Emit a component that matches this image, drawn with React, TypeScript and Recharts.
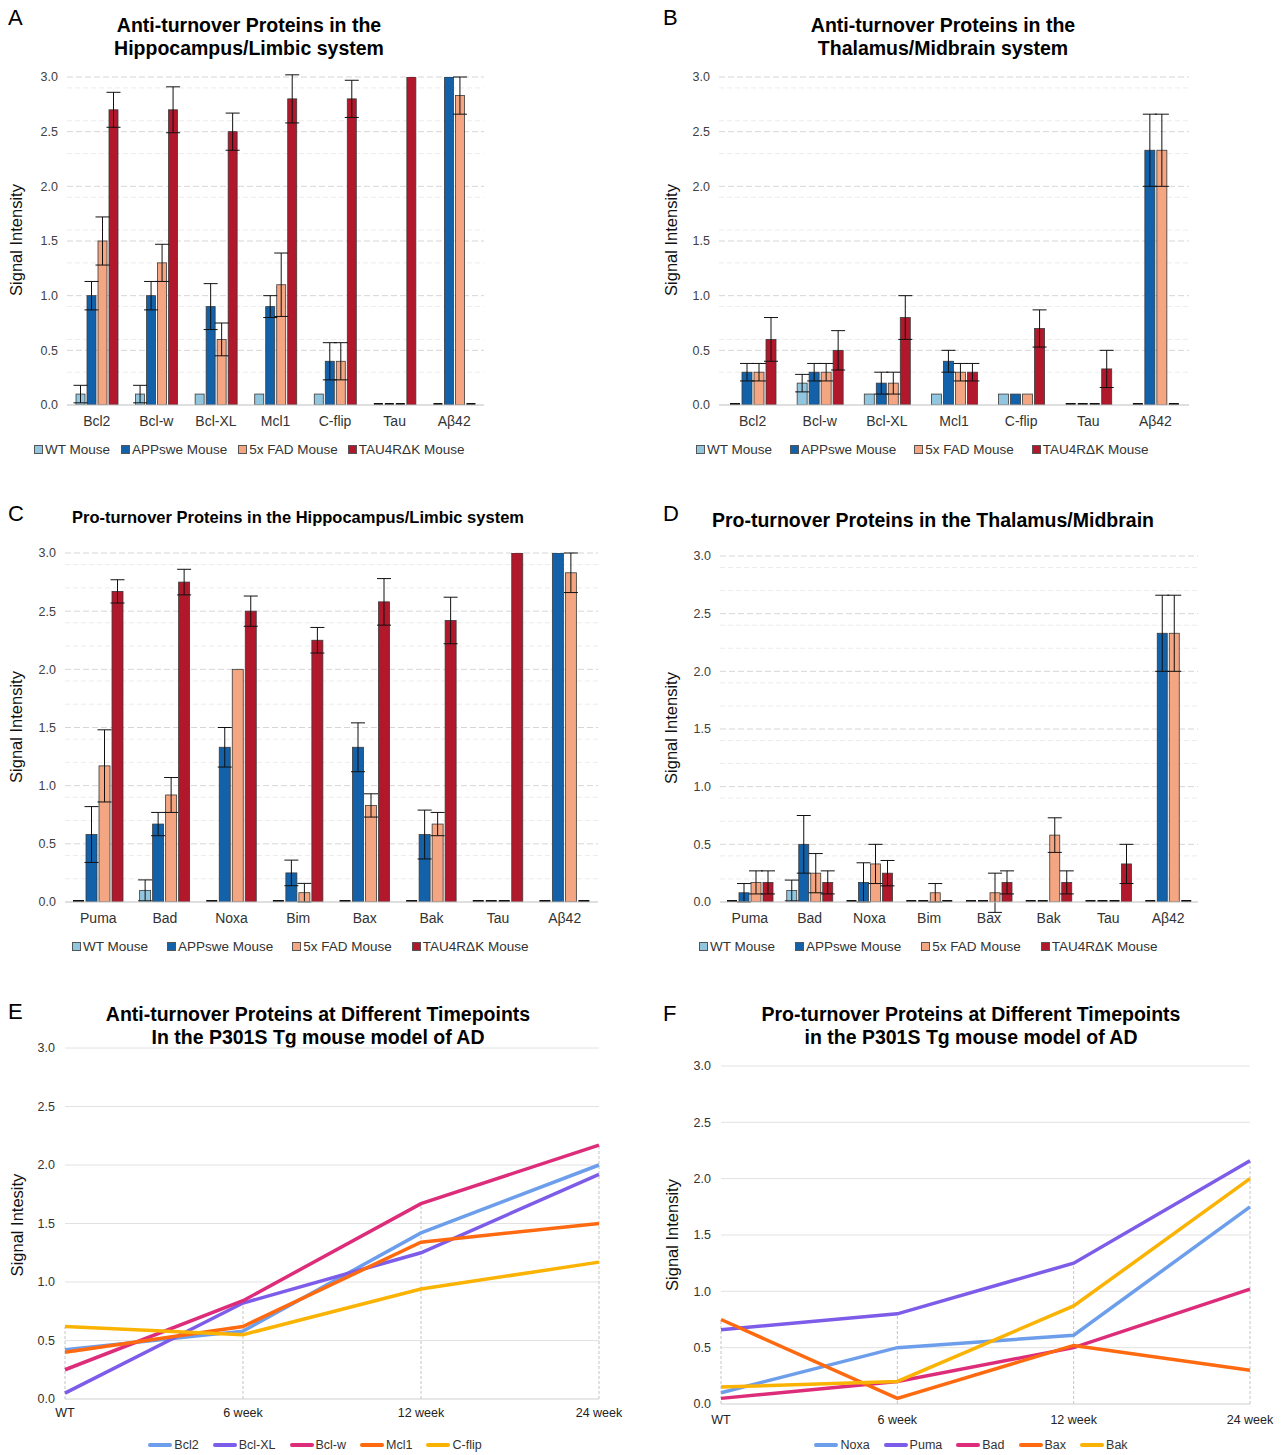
import React from "react";
import {
  BarChart,
  Bar,
  XAxis,
  YAxis,
  CartesianGrid,
  ErrorBar,
  LineChart,
  Line,
  ReferenceLine,
} from "recharts";

const FONT = '"Liberation Sans", Arial, Helvetica, sans-serif';
const NARROW = '"Liberation Sans Narrow", "Liberation Sans", Arial, sans-serif';

// ---- bar panels (A-D) ----
const GROUP_NAMES = ["WT Mouse", "APPswe Mouse", "5x FAD Mouse", "TAU4RΔK Mouse"];
const GROUP_KEYS = ["wt", "app", "fad", "tau"];
const GROUP_COLORS = ["#92c5de", "#1261a9", "#f4a582", "#b2182b"];

const antiProteins = ["Bcl2", "Bcl-w", "Bcl-XL", "Mcl1", "C-flip", "Tau", "Aβ42"];
const proProteins = ["Puma", "Bad", "Noxa", "Bim", "Bax", "Bak", "Tau", "Aβ42"];

const Y_MAJOR = [0, 0.5, 1.0, 1.5, 2.0, 2.5, 3.0];
const Y_MINOR = [
  0.1, 0.2, 0.3, 0.4, 0.6, 0.7, 0.8, 0.9, 1.1, 1.2, 1.3, 1.4, 1.6, 1.7, 1.8, 1.9,
  2.1, 2.2, 2.3, 2.4, 2.6, 2.7, 2.8, 2.9,
];

// A: anti-turnover, hippocampus/limbic
const aWT = [0.1, 0.1, 0.1, 0.1, 0.1, 0, 0];
const aWTErr = [0.08, 0.08, 0, 0, 0, 0, 0];
const aAPP = [1.0, 1.0, 0.9, 0.9, 0.4, 0, 3.0];
const aAPPErr = [0.13, 0.13, 0.21, 0.1, 0.17, 0, 0];
const aFAD = [1.5, 1.3, 0.6, 1.1, 0.4, 0, 2.83];
const aFADErr = [0.22, 0.17, 0.15, 0.29, 0.17, 0, 0.17];
const aTAU = [2.7, 2.7, 2.5, 2.8, 2.8, 3.0, 0];
const aTAUErr = [0.16, 0.21, 0.17, 0.22, 0.17, 0, 0];

// B: anti-turnover, thalamus/midbrain
const bWT = [0, 0.2, 0.1, 0.1, 0.1, 0, 0];
const bWTErr = [0, 0.08, 0, 0, 0, 0, 0];
const bAPP = [0.3, 0.3, 0.2, 0.4, 0.1, 0, 2.33];
const bAPPErr = [0.08, 0.08, 0.1, 0.1, 0, 0, 0.33];
const bFAD = [0.3, 0.3, 0.2, 0.3, 0.1, 0, 2.33];
const bFADErr = [0.08, 0.08, 0.1, 0.08, 0, 0, 0.33];
const bTAU = [0.6, 0.5, 0.8, 0.3, 0.7, 0.33, 0];
const bTAUErr = [0.2, 0.18, 0.2, 0.08, 0.17, 0.17, 0];

// C: pro-turnover, hippocampus/limbic
const cWT = [0, 0.1, 0, 0, 0, 0, 0, 0];
const cWTErr = [0, 0.09, 0, 0, 0, 0, 0, 0];
const cAPP = [0.58, 0.67, 1.33, 0.25, 1.33, 0.58, 0, 3.0];
const cAPPErr = [0.24, 0.1, 0.17, 0.11, 0.21, 0.21, 0, 0];
const cFAD = [1.17, 0.92, 2.0, 0.08, 0.83, 0.67, 0, 2.83];
const cFADErr = [0.31, 0.15, 0, 0.08, 0.1, 0.1, 0, 0.17];
const cTAU = [2.67, 2.75, 2.5, 2.25, 2.58, 2.42, 3.0, 0];
const cTAUErr = [0.1, 0.11, 0.13, 0.11, 0.2, 0.2, 0, 0];

// D: pro-turnover, thalamus/midbrain
const dWT = [0, 0.1, 0, 0, 0, 0, 0, 0];
const dWTErr = [0, 0.09, 0, 0, 0, 0, 0, 0];
const dAPP = [0.08, 0.5, 0.17, 0, 0, 0, 0, 2.33];
const dAPPErr = [0.08, 0.25, 0.17, 0, 0, 0, 0, 0.33];
const dFAD = [0.17, 0.25, 0.33, 0.08, 0.08, 0.58, 0, 2.33];
const dFADErr = [0.1, 0.17, 0.17, 0.08, 0.17, 0.15, 0, 0.33];
const dTAU = [0.17, 0.17, 0.25, 0, 0.17, 0.17, 0.33, 0];
const dTAUErr = [0.1, 0.1, 0.11, 0, 0.1, 0.1, 0.17, 0];

// ---- line panels (E-F) ----
const timepoints = ["WT", "6 week", "12 week", "24 week"];
const LINE_COLORS = ["#6d9eeb", "#7c5ce8", "#dd2c7a", "#ff6a10", "#fbb303"];

const eNames = ["Bcl2", "Bcl-XL", "Bcl-w", "Mcl1", "C-flip"];
const eBcl2 = [0.42, 0.58, 1.42, 2.0];
const eBclXL = [0.05, 0.82, 1.25, 1.92];
const eBclw = [0.25, 0.84, 1.67, 2.17];
const eMcl1 = [0.4, 0.62, 1.34, 1.5];
const eCflip = [0.62, 0.55, 0.94, 1.17];

const fNames = ["Noxa", "Puma", "Bad", "Bax", "Bak"];
const fNoxa = [0.1, 0.5, 0.61, 1.75];
const fPuma = [0.66, 0.8, 1.25, 2.16];
const fBad = [0.05, 0.2, 0.5, 1.02];
const fBax = [0.75, 0.05, 0.52, 0.3];
const fBak = [0.15, 0.2, 0.87, 2.0];

function buildBarRows(cats: string[], means: number[][], errs: number[][]) {
  return cats.map((name, i) => {
    const row: Record<string, any> = { name };
    GROUP_KEYS.forEach((k, g) => {
      row[k] = means[g][i];
      row[k + "Err"] = errs[g][i];
    });
    return row;
  });
}

function buildLineRows(series: number[][]) {
  return timepoints.map((time, i) => {
    const row: Record<string, any> = { time };
    series.forEach((s, j) => {
      row["s" + j] = s[i];
    });
    row.max = Math.max(...series.map((s) => s[i]));
    return row;
  });
}

const rowsA = buildBarRows(antiProteins, [aWT, aAPP, aFAD, aTAU], [aWTErr, aAPPErr, aFADErr, aTAUErr]);
const rowsB = buildBarRows(antiProteins, [bWT, bAPP, bFAD, bTAU], [bWTErr, bAPPErr, bFADErr, bTAUErr]);
const rowsC = buildBarRows(proProteins, [cWT, cAPP, cFAD, cTAU], [cWTErr, cAPPErr, cFADErr, cTAUErr]);
const rowsD = buildBarRows(proProteins, [dWT, dAPP, dFAD, dTAU], [dWTErr, dAPPErr, dFADErr, dTAUErr]);
const rowsE = buildLineRows([eBcl2, eBclXL, eBclw, eMcl1, eCflip]);
const rowsF = buildLineRows([fNoxa, fPuma, fBad, fBax, fBak]);

const makeShape = (key: string, fill: string) => (props: any) => {
  const { x, y, width, height, payload } = props;
  if (payload && payload[key] === 0) {
    return <rect x={x} y={y} width={width} height={Math.max(height, 2)} fill="#111" />;
  }
  return (
    <rect x={x} y={y} width={width} height={height} fill={fill} stroke="#3a3a3a" strokeWidth={0.8} />
  );
};

const Text = ({ left, top, width, children, style }: any) => (
  <div
    style={{
      position: "absolute",
      left,
      top,
      width,
      textAlign: "center",
      fontFamily: FONT,
      color: "#000",
      ...style,
    }}
  >
    {children}
  </div>
);

const YLabel = ({ cx, cy, text, size = 16.5 }: any) => (
  <div
    style={{
      position: "absolute",
      left: cx - 100,
      top: cy - 10,
      width: 200,
      height: 20,
      lineHeight: "20px",
      textAlign: "center",
      transform: "rotate(-90deg)",
      fontFamily: FONT,
      fontSize: size,
      color: "#111",
    }}
  >
    {text}
  </div>
);

const BarLegend = ({ left, top, gaps }: any) => (
  <div style={{ position: "absolute", left, top, display: "flex", fontFamily: FONT, fontSize: 13.5, color: "#333" }}>
    {GROUP_NAMES.map((n, i) => (
      <div key={n} style={{ display: "flex", alignItems: "center", marginRight: gaps[i] }}>
        <span
          style={{
            display: "inline-block",
            width: 7,
            height: 7,
            background: GROUP_COLORS[i],
            border: "1px solid #555",
            marginRight: 2,
          }}
        />
        {n}
      </div>
    ))}
  </div>
);

const LineLegend = ({ cx, top, names }: any) => (
  <div
    style={{
      position: "absolute",
      left: cx - 250,
      width: 500,
      top,
      display: "flex",
      justifyContent: "center",
      fontFamily: NARROW,
      fontSize: 12.5,
      color: "#333",
    }}
  >
    {names.map((n: string, i: number) => (
      <div key={n} style={{ display: "flex", alignItems: "center", marginRight: 14 }}>
        <span
          style={{
            display: "inline-block",
            width: 24,
            height: 4,
            borderRadius: 2,
            background: LINE_COLORS[i],
            marginRight: 2,
          }}
        />
        {n}
      </div>
    ))}
  </div>
);

const BarPanel = ({ left, top, width, height, data, margin, barSize }: any) => (
  <div style={{ position: "absolute", left, top }}>
    <BarChart width={width} height={height} data={data} margin={margin} barSize={barSize} barGap={2}>
      <CartesianGrid vertical={false} horizontalValues={Y_MINOR} stroke="#ececec" strokeDasharray="5 3" />
      <CartesianGrid vertical={false} horizontalValues={Y_MAJOR.slice(1)} stroke="#d6d6d6" strokeDasharray="6 3" />
      <XAxis
        dataKey="name"
        interval={0}
        tickLine={false}
        axisLine={{ stroke: "#bfbfbf" }}
        height={30}
        tick={{ fontSize: 14, fill: "#333", fontFamily: FONT }}
        tickMargin={5}
      />
      <YAxis
        type="number"
        domain={[0, 3]}
        allowDataOverflow
        ticks={Y_MAJOR}
        tickFormatter={(v: number) => v.toFixed(1)}
        axisLine={false}
        tickLine={false}
        width={50}
        tickMargin={3}
        tick={{ fontSize: 12.5, fill: "#404040", fontFamily: FONT }}
      />
      {GROUP_KEYS.map((k, i) => (
        <Bar
          key={k}
          dataKey={k}
          fill={GROUP_COLORS[i]}
          minPointSize={2}
          shape={makeShape(k, GROUP_COLORS[i])}
          isAnimationActive={false}
        >
          <ErrorBar dataKey={k + "Err"} width={7} stroke="#111" strokeWidth={1} />
        </Bar>
      ))}
    </BarChart>
  </div>
);

const LinePanel = ({ left, top, width, height, data, margin, tickMargin }: any) => (
  <div style={{ position: "absolute", left, top }}>
    <LineChart width={width} height={height} data={data} margin={margin}>
      <CartesianGrid vertical={false} horizontalValues={Y_MAJOR.slice(1)} stroke="#e2e2e2" />
      {data.map((r: any) => (
        <ReferenceLine
          key={r.time}
          segment={[
            { x: r.time, y: 0 },
            { x: r.time, y: r.max },
          ]}
          stroke="#c4c4c4"
          strokeDasharray="3 2"
        />
      ))}
      <XAxis
        dataKey="time"
        interval={0}
        tickLine={false}
        axisLine={{ stroke: "#cfcfcf" }}
        height={22}
        tickMargin={tickMargin}
        tick={{ fontSize: 12.5, fill: "#222", fontFamily: NARROW }}
      />
      <YAxis
        type="number"
        domain={[0, 3]}
        ticks={Y_MAJOR}
        tickFormatter={(v: number) => v.toFixed(1)}
        axisLine={false}
        tickLine={false}
        width={45}
        tickMargin={4}
        tick={{ fontSize: 12.5, fill: "#333", fontFamily: NARROW }}
      />
      {[0, 1, 2, 3, 4].map((j) => (
        <Line
          key={j}
          type="linear"
          dataKey={"s" + j}
          stroke={LINE_COLORS[j]}
          strokeWidth={3.5}
          dot={false}
          isAnimationActive={false}
        />
      ))}
    </LineChart>
  </div>
);

const letter = { fontSize: 22, textAlign: "left" as const };
const title = { fontSize: 19.5, fontWeight: 700, lineHeight: "23px" };

export default function App() {
  return (
    <div
      style={{
        position: "absolute",
        left: 0,
        top: 0,
        width: 1283,
        height: 1455,
        background: "#fff",
        overflow: "hidden",
      }}
    >
      {/* A */}
      <Text left={8} top={5} width={30} style={letter}>A</Text>
      <Text left={0} top={14} width={498} style={title}>
        Anti-turnover Proteins in the
        <br />
        Hippocampus/Limbic system
      </Text>
      <BarPanel left={0} top={60} width={500} height={375} data={rowsA}
        margin={{ top: 17, right: 16, left: 17, bottom: 0 }} barSize={9} />
      <YLabel cx={16} cy={240} text="Signal Intensity" />
      <BarLegend left={34} top={442} gaps={[11, 11, 10, 0]} />

      {/* B */}
      <Text left={663} top={5} width={30} style={letter}>B</Text>
      <Text left={693} top={14} width={500} style={title}>
        Anti-turnover Proteins in the
        <br />
        Thalamus/Midbrain system
      </Text>
      <BarPanel left={655} top={60} width={550} height={375} data={rowsB}
        margin={{ top: 17, right: 16, left: 14, bottom: 0 }} barSize={10} />
      <YLabel cx={671} cy={240} text="Signal Intensity" />
      <BarLegend left={696} top={442} gaps={[18, 18, 18, 0]} />

      {/* C */}
      <Text left={8} top={501} width={30} style={letter}>C</Text>
      <Text left={0} top={508} width={596} style={{ fontSize: 16.5, fontWeight: 700 }}>
        Pro-turnover Proteins in the Hippocampus/Limbic system
      </Text>
      <BarPanel left={0} top={540} width={615} height={392} data={rowsC}
        margin={{ top: 13, right: 17, left: 15, bottom: 0 }} barSize={11} />
      <YLabel cx={16} cy={727} text="Signal Intensity" />
      <BarLegend left={72} top={939} gaps={[19, 19, 20, 0]} />

      {/* D */}
      <Text left={663} top={501} width={30} style={letter}>D</Text>
      <Text left={633} top={509} width={600} style={{ fontSize: 19.5, fontWeight: 700 }}>
        Pro-turnover Proteins in the Thalamus/Midbrain
      </Text>
      <BarPanel left={655} top={540} width={560} height={392} data={rowsD}
        margin={{ top: 16, right: 17, left: 15, bottom: 0 }} barSize={10} />
      <YLabel cx={671} cy={728} text="Signal Intensity" />
      <BarLegend left={699} top={939} gaps={[20, 20, 20, 0]} />

      {/* E */}
      <Text left={8} top={999} width={30} style={letter}>E</Text>
      <Text left={18} top={1003} width={600} style={title}>
        Anti-turnover Proteins at Different Timepoints
        <br />
        In the P301S Tg mouse model of AD
      </Text>
      <LinePanel left={0} top={1040} width={640} height={381} data={rowsE}
        margin={{ top: 8, right: 41, left: 20, bottom: 0 }} tickMargin={3} />
      <YLabel cx={17} cy={1225} text="Signal Intesity" />
      <LineLegend cx={322} top={1438} names={eNames} />

      {/* F */}
      <Text left={671} top={1003} width={600} style={title}>
        Pro-turnover Proteins at Different Timepoints
        <br />
        in the P301S Tg mouse model of AD
      </Text>
      <Text left={663} top={1001} width={30} style={letter}>F</Text>
      <LinePanel left={655} top={1050} width={628} height={376} data={rowsF}
        margin={{ top: 16, right: 33, left: 21, bottom: 0 }} tickMargin={5} />
      <YLabel cx={672} cy={1235} text="Signal Intensity" />
      <LineLegend cx={978} top={1438} names={fNames} />
    </div>
  );
}
